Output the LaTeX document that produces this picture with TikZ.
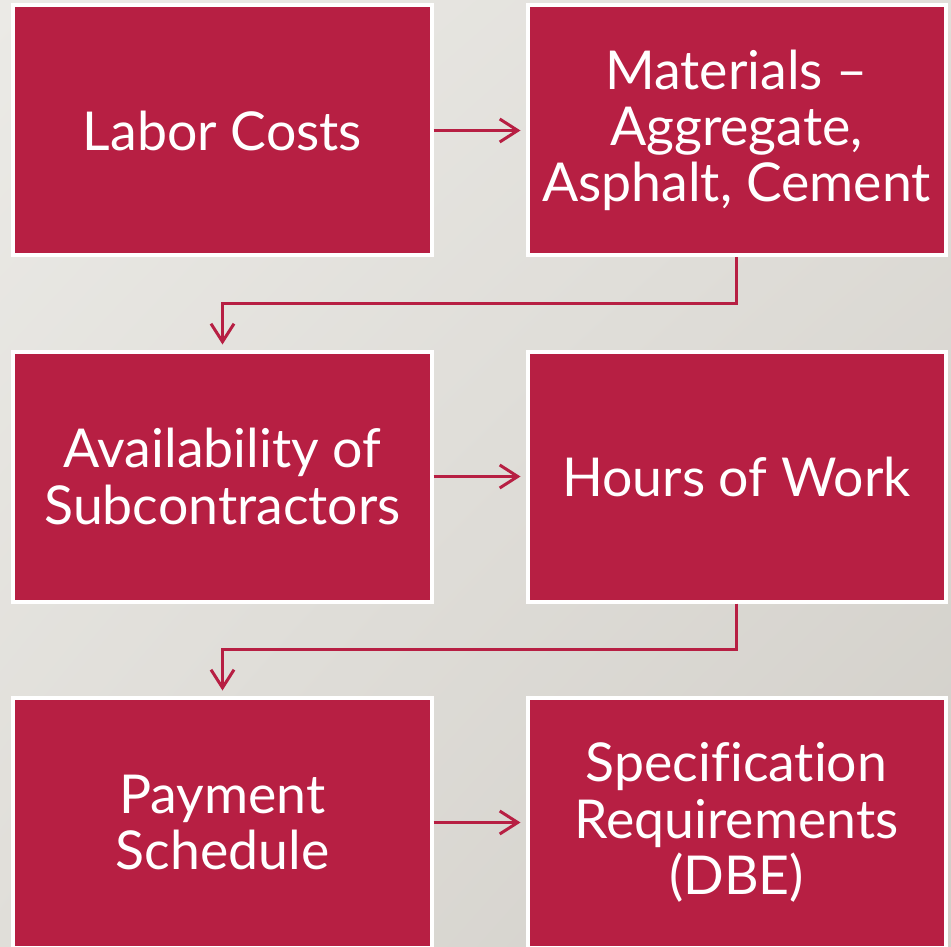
\documentclass[tikz,border=0pt]{standalone}
\usepackage{fontspec}
\setmainfont{Lato}[Ligatures=NoCommon]
\usetikzlibrary{arrows.meta,shadings}

\definecolor{crimson}{RGB}{183,31,67}
\definecolor{bglight}{RGB}{235,234,230}
\definecolor{bgmid}{RGB}{224,222,217}
\definecolor{bgdark}{RGB}{209,206,200}

\begin{document}
\begin{tikzpicture}[
  box/.style={rectangle,draw=white,fill=crimson,line width=0.08cm,
    minimum width=8.36cm,minimum height=5cm,align=center,text=white,
    font=\fontsize{30.5}{32}\selectfont},
  flow/.style={draw=crimson,line width=0.06cm,
    -{Straight Barb[length=0.36cm,width=0.46cm]},shorten >=0.1cm}
]
\useasboundingbox (0,0) rectangle (19.02,-18.94);
\shade[upper left=bglight,upper right=bgmid,lower left=bgmid,lower right=bgdark]
  (0,0) rectangle (19.02,-18.94);

\node[box] (labor) at (4.45,-2.61) {Labor Costs};
\node[box] (mat) at (14.73,-2.61) {Materials --\\Aggregate,\\Asphalt, Cement};
\node[box] (avail) at (4.45,-9.53) {Availability of\\Subcontractors};
\node[box] (hours) at (14.73,-9.53) {Hours of Work};
\node[box] (pay) at (4.45,-16.45) {Payment\\Schedule};
\node[box] (spec) at (14.73,-16.45) {Specification\\Requirements\\(DBE)};

\draw[flow] (labor) -- (mat);
\draw[flow] (mat.south) -- ++(0,-0.92) -| (avail.north);
\draw[flow] (avail) -- (hours);
\draw[flow] (hours.south) -- ++(0,-0.92) -| (pay.north);
\draw[flow] (pay) -- (spec);

\end{tikzpicture}
\end{document}
